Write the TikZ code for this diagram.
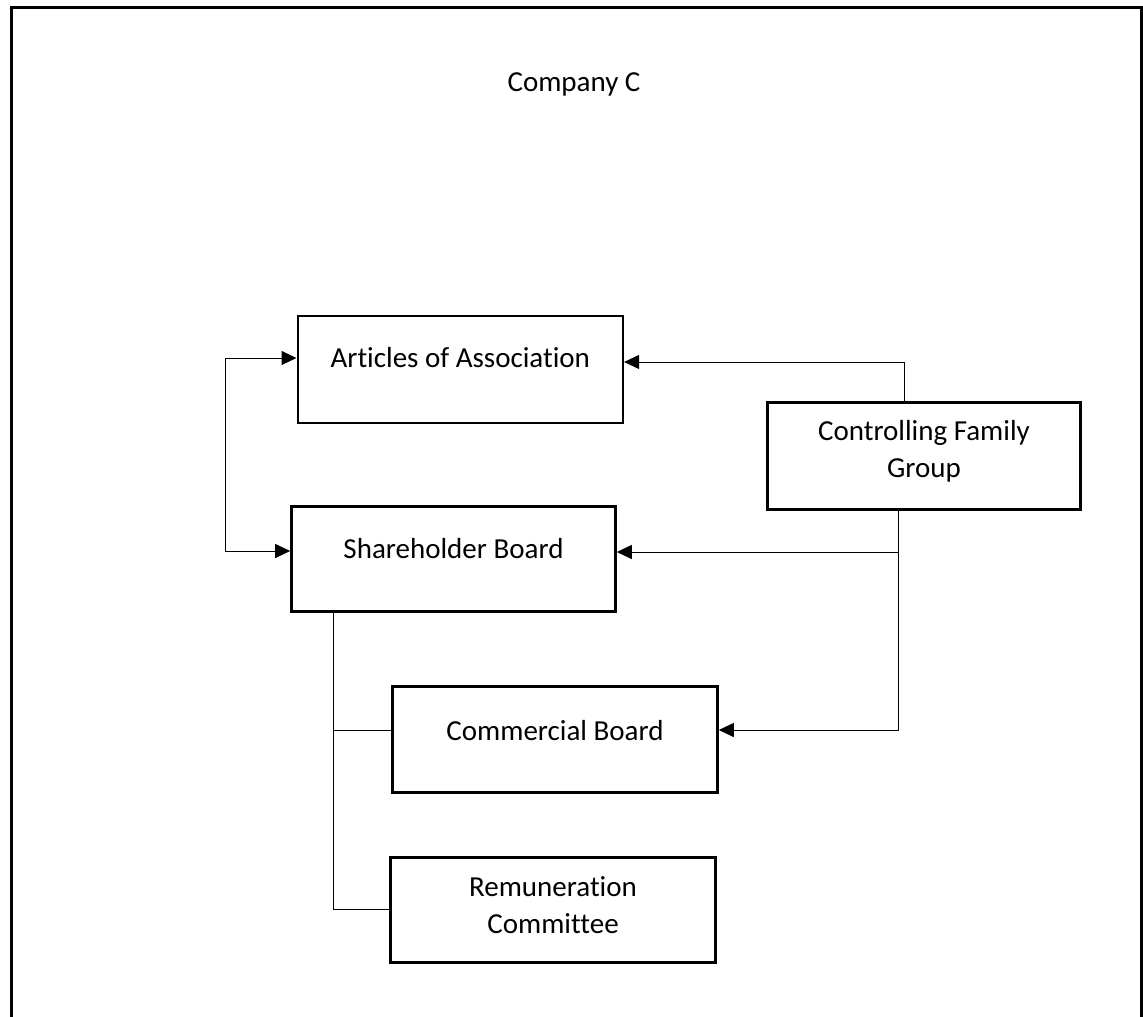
\documentclass[tikz,border=0pt]{standalone}
\usepackage{fontspec}
\setmainfont{Carlito}[Ligatures=NoCommon]
\usetikzlibrary{arrows.meta}
\begin{document}
\begin{tikzpicture}[x=1pt,y=-1pt,
  every node/.style={font=\fontsize{29}{37}\selectfont},
  orgbox/.style={draw=black,line width=2.6pt,inner sep=0pt,fill=white},
  txt/.style={align=center,inner sep=0pt},
  link/.style={draw=black,line width=1pt},
  arr/.style={link,-{Triangle[length=15pt,width=14pt]}},
  biarr/.style={link,{Triangle[length=15pt,width=14pt]}-{Triangle[length=15pt,width=14pt]}}]
\useasboundingbox (0,0) rectangle (1143,1017);
% outer frame, open at the bottom
\draw[line width=3pt] (11.5,1017) -- (11.5,7) -- (1141,7) -- (1141,1017);

\node[txt] (title) at (574,84) {Company C};

% boxes
\node[orgbox,minimum width=325pt,minimum height=107pt] (A) at (460.3,369.5) {};
\node[orgbox,minimum width=324pt,minimum height=105pt] (S) at (453.5,559) {};
\node[orgbox,minimum width=313pt,minimum height=107pt] (F) at (924,456) {};
\node[orgbox,minimum width=325pt,minimum height=106pt] (C) at (555,739.5) {};
\node[orgbox,minimum width=325pt,minimum height=105pt] (R) at (553,910) {};

% box texts
\node[txt] (At) at ([yshift=-43pt]A.north) {Articles of Association};
\node[txt] (St) at ([yshift=-43pt]S.north) {Shareholder Board};
\node[txt] (Ft) at ([yshift=4.5pt]F.center) {Controlling Family\\Group};
\node[txt] (Ct) at ([yshift=-45pt]C.north) {Commercial Board};
\node[txt] (Rt) at ([yshift=5pt]R.center) {Remuneration\\Committee};

% connector bends
\coordinate (la) at (225,358);
\coordinate (lb) at (225,551);
\coordinate (ct) at (904,362);
\coordinate (cm) at (898,552);
\coordinate (cb) at (898,730);
\coordinate (tc) at (333,730);
\coordinate (tr) at (333,909);

% Articles <-> Shareholder Board
\draw[biarr] (A.west |- la) -- (la) -- (lb) -- (S.west |- lb);
% Controlling Family Group -> Articles
\draw[arr] (F.north -| ct) -- (ct) -- (A.east |- ct);
% Controlling Family Group -> Shareholder Board and Commercial Board
\draw[arr] (F.south -| cb) -- (cb) -- (C.east |- cb);
\draw[arr] (cm) -- (S.east |- cm);
% Shareholder Board tree to Commercial Board and Remuneration Committee
\draw[link] (S.south -| tr) -- (tr) -- (R.west |- tr);
\draw[link] (tc) -- (C.west |- tc);
\end{tikzpicture}
\end{document}
